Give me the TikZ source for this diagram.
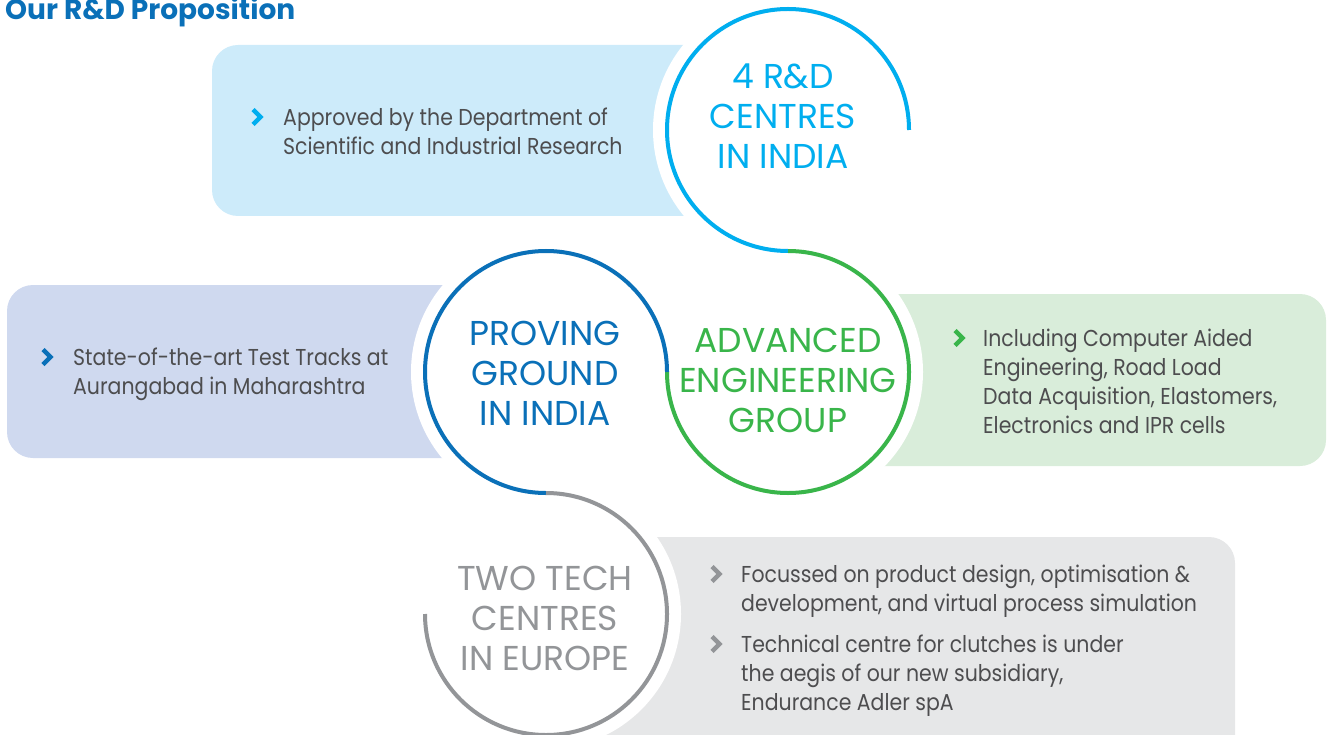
\documentclass[tikz,border=0pt]{standalone}
\usepackage{fontspec}
\setmainfont{Poppins}[FakeStretch=0.89]
\newfontfamily\headfont{Poppins}

\definecolor{rdcyan}{HTML}{00AEEF}
\definecolor{rdblue}{HTML}{0A70B8}
\definecolor{rdgreen}{HTML}{39B54A}
\definecolor{rdgray}{HTML}{939598}
\definecolor{cyanbg}{HTML}{CDEBFA}
\definecolor{bluebg}{HTML}{CFD9EF}
\definecolor{greenbg}{HTML}{D9EDDA}
\definecolor{graybg}{HTML}{E6E7E8}
\definecolor{txtgray}{HTML}{4D4D4F}

\tikzset{
  panel/.style={rounded corners=26pt},
  ring/.style={line width=4pt},
  headtxt/.style={align=center, inner sep=0pt, font=\headfont\fontsize{34.5}{40}\selectfont},
  bodytxt/.style={anchor=north west, inner sep=0pt, align=left, text=txtgray, font=\fontsize{23}{29}\selectfont},
  chev/.pic={\draw[line width=4.4pt] (-4,-7.5) -- (3.5,0) -- (-4,7.5);}
}

\begin{document}
\begin{tikzpicture}[x=1pt, y=-1pt]
  \useasboundingbox (0,0) rectangle (1332,735);
  \clip (0,0) rectangle (1332,735);

  % panels behind the rings
  \fill[cyanbg, panel] (212,45) rectangle (788,216);
  \fill[bluebg, panel] (7,285) rectangle (546,458);
  \fill[greenbg, panel] (788,294) rectangle (1326,466);
  \fill[graybg, panel] (546,537) rectangle (1235,770);

  \coordinate (c1) at (788,130);
  \coordinate (c2) at (788,372);
  \coordinate (c3) at (546,372);
  \coordinate (c4) at (546,614);
  \foreach \c in {c1,c2,c3,c4}
    \fill[white] (\c) circle (135);

  % the winding line
  \draw[ring, rdcyan] ([xshift=121pt]c1) arc[start angle=0, end angle=-270, radius=121];
  \draw[ring, rdgreen] ([yshift=121pt]c2) arc[start angle=-90, end angle=180, radius=121];
  \draw[ring, rdblue] ([xshift=121pt]c3) arc[start angle=0, end angle=-270, radius=121];
  \draw[ring, rdgray] ([yshift=121pt]c4) arc[start angle=-90, end angle=180, radius=121];

  \node[anchor=base west, inner sep=0pt, text=rdblue, font=\headfont\bfseries\fontsize{28}{30}\selectfont] (title) at (5,20) {Our R\&D Proposition};

  \node[headtxt, text=rdcyan] (centres) at (783,116) {4 R\&D\\CENTRES\\IN INDIA};
  \node[headtxt, text=rdblue] (proving) at (545,373) {PROVING\\GROUND\\IN INDIA};
  \node[headtxt, text=rdgreen] (advanced) at (788,380) {ADVANCED\\ENGINEERING\\GROUP};
  \node[headtxt, text=rdgray] (europe) at (545,618) {TWO TECH\\CENTRES\\IN EUROPE};

  \pic[rdcyan] at (257,117) {chev};
  \node[bodytxt] (dsir) at (283,108) {Approved by the Department of\\Scientific and Industrial Research};
  \pic[rdblue] at (47,357) {chev};
  \node[bodytxt] (tracks) at (73,348) {State-of-the-art Test Tracks at\\Aurangabad in Maharashtra};
  \pic[rdgreen] at (959,338) {chev};
  \node[bodytxt] (cae) at (983,329) {Including Computer Aided\\Engineering, Road Load\\Data Acquisition, Elastomers,\\Electronics and IPR cells};
  \pic[rdgray] at (716,574) {chev};
  \node[bodytxt] (design) at (741,565) {Focussed on product design, optimisation \&\\development, and virtual process simulation};
  \pic[rdgray] at (716,644) {chev};
  \node[bodytxt] (clutch) at (741,635) {Technical centre for clutches is under\\the aegis of our new subsidiary,\\Endurance Adler spA};
\end{tikzpicture}
\end{document}
